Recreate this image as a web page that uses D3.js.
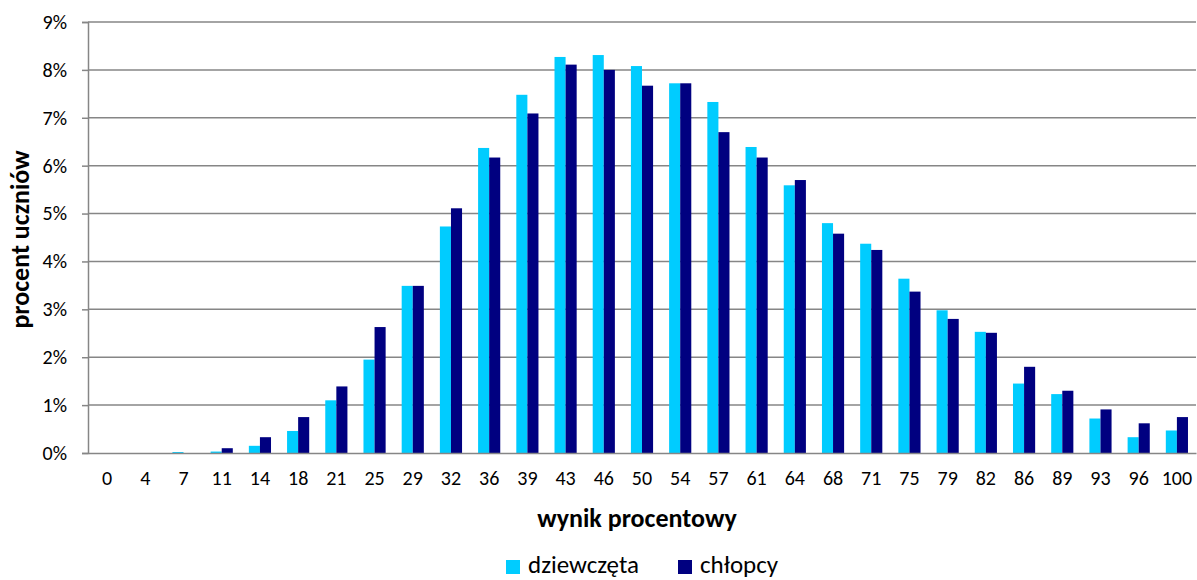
<!DOCTYPE html>
<html>
<head>
<meta charset="utf-8">
<script src="https://cdn.jsdelivr.net/npm/d3@7"></script>
<style>
  body { margin: 0; background: #fff; }
  text { font-family: Carlito, Calibri, Lato, "Liberation Sans", sans-serif; }
</style>
</head>
<body>
<div id="chart"></div>
<script>
// categories (wynik procentowy)
var categories = ["0","4","7","11","14","18","21","25","29","32","36","39","43","46","50",
  "54","57","61","64","68","71","75","79","82","86","89","93","96","100"];
var seriesNames = ["dziewczęta", "chłopcy"];
var girls = [0, 0, 0.02, 0.03, 0.15, 0.46, 1.10, 1.95, 3.49, 4.73, 6.37, 7.48, 8.27, 8.31, 8.08,
  7.72, 7.33, 6.39, 5.59, 4.80, 4.37, 3.64, 2.98, 2.53, 1.45, 1.23, 0.72, 0.33, 0.47];
var boys = [0, 0, 0, 0.10, 0.33, 0.75, 1.39, 2.63, 3.49, 5.11, 6.17, 7.09, 8.11, 8.00, 7.67,
  7.72, 6.70, 6.17, 5.70, 4.58, 4.24, 3.37, 2.80, 2.51, 1.80, 1.30, 0.91, 0.62, 0.75];
var yTicks = [0, 1, 2, 3, 4, 5, 6, 7, 8, 9];
var colors = ["#00ccff", "#000080"];

var margin = {top: 22, right: 1, bottom: 127, left: 88},
    width = 1197 - margin.left - margin.right,
    height = 580 - margin.top - margin.bottom;

var svg = d3.select("#chart")
  .append("svg")
    .attr("width", 1197)
    .attr("height", 580)
  .append("g")
    .attr("transform", "translate(" + margin.left + "," + margin.top + ")");

var data = categories.map(function(c, i) {
  return {cat: c, values: [girls[i], boys[i]]};
});

var x0 = d3.scaleBand()
  .domain(categories)
  .range([0, width])
  .paddingInner(0.42)
  .paddingOuter(0.21);

var x1 = d3.scaleBand()
  .domain([0, 1])
  .range([0, x0.bandwidth()]);

var y = d3.scaleLinear()
  .domain([0, 9])
  .range([height, 0]);

// gridlines
svg.append("g")
  .selectAll("line")
  .data(yTicks.slice(1))
  .enter()
  .append("line")
    .attr("x1", 0)
    .attr("x2", width)
    .attr("y1", function(d) { return y(d); })
    .attr("y2", function(d) { return y(d); })
    .style("stroke", "#868686")
    .style("stroke-width", 1.5);

// bars
var groups = svg.selectAll(".grp")
  .data(data)
  .enter()
  .append("g")
    .attr("transform", function(d) { return "translate(" + x0(d.cat) + ",0)"; });

groups.selectAll("rect")
  .data(function(d) { return d.values.map(function(v, k) { return {k: k, v: v}; }); })
  .enter()
  .append("rect")
    .attr("x", function(d) { return x1(d.k); })
    .attr("width", x1.bandwidth())
    .attr("y", function(d) { return y(d.v); })
    .attr("height", function(d) { return height - y(d.v); })
    .style("fill", function(d) { return colors[d.k]; });

// y axis
var yAxis = svg.append("g")
  .call(d3.axisLeft(y).tickValues(yTicks).tickSize(6).tickPadding(15)
    .tickFormat(function(d) { return d + "%"; }));
yAxis.select(".domain").style("stroke", "#868686").style("stroke-width", 1.5);
yAxis.selectAll(".tick line").style("stroke", "#868686").style("stroke-width", 1.5);
yAxis.selectAll("text").style("font-size", "20px").style("fill", "#000");

// x axis
var xAxis = svg.append("g")
  .attr("transform", "translate(0," + height + ")")
  .call(d3.axisBottom(x0).tickSize(0).tickPadding(18));
xAxis.select(".domain").style("stroke", "#868686").style("stroke-width", 1.5);
xAxis.selectAll("text").style("font-size", "20px").style("fill", "#000");

// axis titles
svg.append("text")
  .attr("transform", "translate(-59," + (height / 2 + 2) + ") rotate(-90)")
  .attr("text-anchor", "middle")
  .style("font-size", "26px")
  .style("font-weight", "bold")
  .text("procent uczniów");

svg.append("text")
  .attr("x", 637 - margin.left)
  .attr("y", 527 - margin.top)
  .attr("text-anchor", "middle")
  .style("font-size", "26px")
  .style("font-weight", "bold")
  .text("wynik procentowy");

// legend
var legendX = [506, 678];
var legend = d3.select("svg").append("g");
seriesNames.forEach(function(name, i) {
  legend.append("rect")
    .attr("x", legendX[i])
    .attr("y", 560)
    .attr("width", 14)
    .attr("height", 14)
    .style("fill", colors[i]);
  legend.append("text")
    .attr("x", legendX[i] + 22)
    .attr("y", 573)
    .style("font-size", "25px")
    .text(name);
});
</script>
</body>
</html>
